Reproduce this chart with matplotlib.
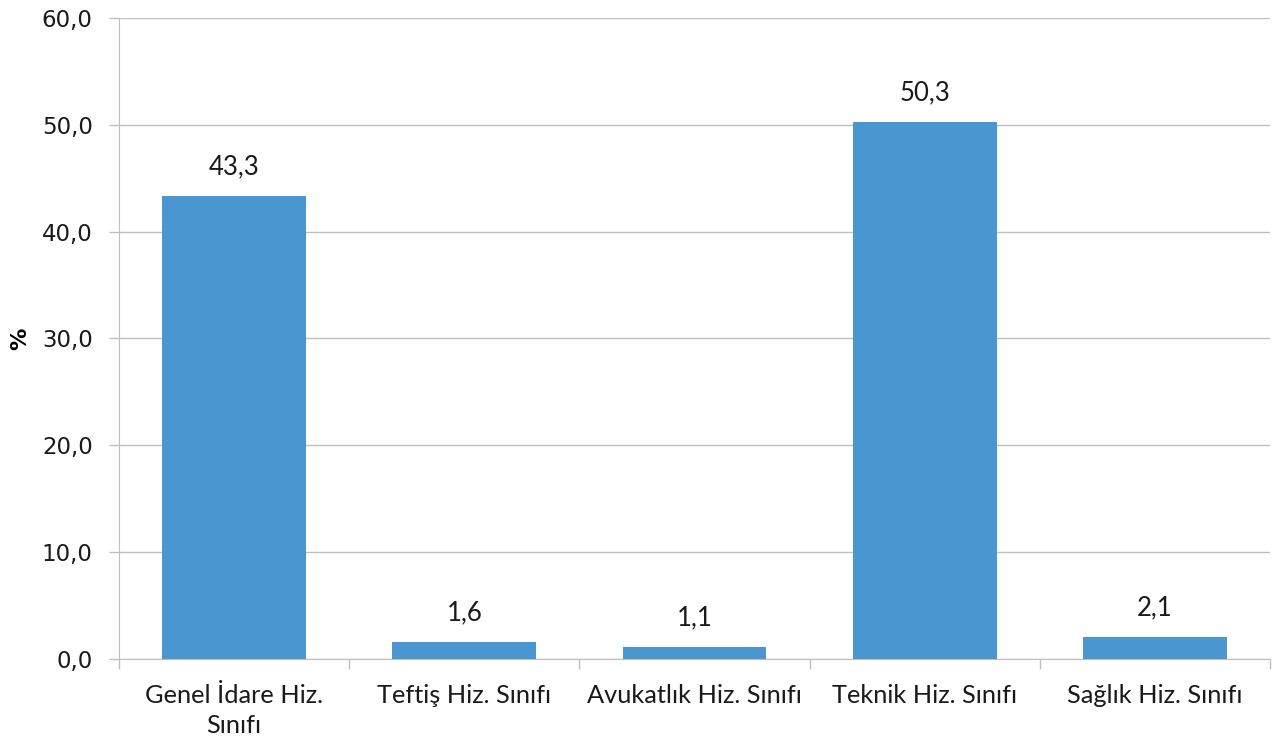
import numpy as np
import matplotlib.pyplot as plt

# veriler
kategoriler = ['Genel İdare Hiz.\nSınıfı', 'Teftiş Hiz. Sınıfı', 'Avukatlık Hiz. Sınıfı',
               'Teknik Hiz. Sınıfı', 'Sağlık Hiz. Sınıfı']
degerler = [43.3, 1.6, 1.1, 50.3, 2.1]
yticks = [0, 10, 20, 30, 40, 50, 60]

plt.rcParams['font.family'] = ['Lato', 'DejaVu Sans']

fig = plt.figure(figsize=(12.76, 7.46), dpi=100)
ax = fig.add_axes([0.0933, 0.1166, 0.902, 0.8593])

x = np.arange(len(kategoriler))
bars = ax.bar(x, degerler, width=0.625, color='#4a96d1', zorder=3)

for b, v in zip(bars, degerler):
    ax.annotate(('%.1f' % v).replace('.', ','),
                (b.get_x() + b.get_width() / 2, v),
                xytext=(0, 12), textcoords='offset points',
                ha='center', va='bottom', fontsize=18.5, color='#1a1a1a')

ax.set_xlim(-0.5, len(kategoriler) - 0.5)
ax.set_ylim(0, 60)
ax.set_yticks(yticks)
ax.set_yticklabels([('%.1f' % t).replace('.', ',') for t in yticks],
                   fontsize=16.5, family='DejaVu Sans', color='#1a1a1a')
ax.yaxis.grid(True, color='#bfbfbf', linewidth=1, zorder=0)

# kategori etiketleri ve sınır tikleri
ax.set_xticks(x)
ax.set_xticklabels(kategoriler, fontsize=18.3, color='#1a1a1a', linespacing=1.35)
ax.tick_params(axis='x', length=0, pad=18)
ax.set_xticks(np.arange(-0.5, len(kategoriler)), minor=True)
ax.tick_params(axis='x', which='minor', length=7, color='#bfbfbf', width=1)
ax.tick_params(axis='y', length=7, color='#bfbfbf', width=1, pad=12)

for s in ['top', 'right']:
    ax.spines[s].set_visible(False)
ax.spines['left'].set_color('#bfbfbf')
ax.spines['bottom'].set_color('#bfbfbf')

ax.set_ylabel('%', fontsize=16, fontweight='bold', family='DejaVu Sans', labelpad=8)

fig.savefig('out.png', dpi=100)
